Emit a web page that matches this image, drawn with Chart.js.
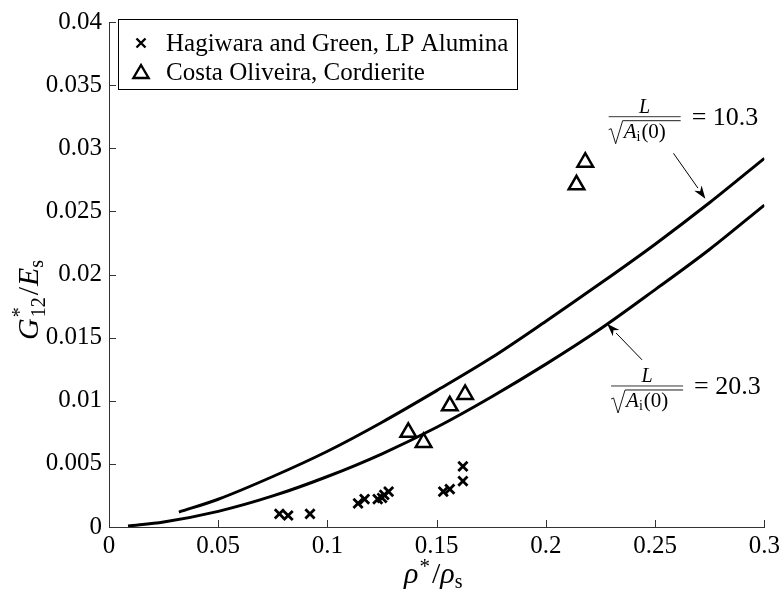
<!DOCTYPE html>
<html>
<head>
<meta charset="utf-8">
<script src="https://cdn.jsdelivr.net/npm/chart.js@4/dist/chart.umd.min.js"></script>
<style>
  html, body { margin: 0; padding: 0; background: #fff; }
  #wrap { width: 784px; height: 596px; }
</style>
</head>
<body>
<div id="wrap"><canvas id="myChart" width="784" height="596"></canvas></div>
<script>
// data
const xTicks = [0, 0.05, 0.1, 0.15, 0.2, 0.25, 0.3];
const xTickLabels = ['0', '0.05', '0.1', '0.15', '0.2', '0.25', '0.3'];
const yTicks = [0, 0.005, 0.01, 0.015, 0.02, 0.025, 0.03, 0.035, 0.04];
const yTickLabels = ['0', '0.005', '0.01', '0.015', '0.02', '0.025', '0.03', '0.035', '0.04'];

// Hagiwara and Green, LP Alumina
const hgX = [0.078, 0.082, 0.092, 0.114, 0.117, 0.123, 0.125, 0.126, 0.128, 0.153, 0.156, 0.162, 0.162];
const hgY = [0.00104, 0.00091, 0.00104, 0.00187, 0.00221, 0.00221, 0.0023, 0.00255, 0.0028, 0.0028, 0.0030, 0.00364, 0.0048];

// Costa Oliveira, Cordierite
const coX = [0.137, 0.144, 0.156, 0.163, 0.214, 0.218];
const coY = [0.0075, 0.0067, 0.0096, 0.0105, 0.0271, 0.0289];

// model curves
const c10X = [0.032, 0.05, 0.075, 0.1, 0.125, 0.15, 0.175, 0.2, 0.225, 0.25, 0.275, 0.3];
const c10Y = [0.00118, 0.0022, 0.0040, 0.0060, 0.0083, 0.0108, 0.0134, 0.0163, 0.0193, 0.0224, 0.0257, 0.0292];
const c20X = [0.0087, 0.025, 0.05, 0.075, 0.1, 0.125, 0.15, 0.175, 0.2, 0.225, 0.25, 0.275, 0.3];
const c20Y = [0.00008, 0.0004, 0.00124, 0.00246, 0.0040, 0.0058, 0.0079, 0.0103, 0.0129, 0.0157, 0.0188, 0.0220, 0.0255];

const legendLabels = ['Hagiwara and Green, LP Alumina', 'Costa Oliveira, Cordierite'];

function pts(xs, ys) { return xs.map((x, i) => ({x: x, y: ys[i]})); }

const SERIF = '"Liberation Serif", "DejaVu Serif", serif';

function drawCross(ctx, x, y, r) {
  ctx.beginPath();
  ctx.moveTo(x - r, y - r); ctx.lineTo(x + r, y + r);
  ctx.moveTo(x - r, y + r); ctx.lineTo(x + r, y - r);
  ctx.stroke();
}
function drawTri(ctx, x, y, r) {
  ctx.beginPath();
  ctx.moveTo(x, y - r);
  ctx.lineTo(x + r * 0.95, y + r * 0.62);
  ctx.lineTo(x - r * 0.95, y + r * 0.62);
  ctx.closePath();
  ctx.stroke();
}
function arrow(ctx, x1, y1, x2, y2) {
  const a = Math.atan2(y2 - y1, x2 - x1);
  const len = 13, w = 4.5;
  const bx = x2 - len * Math.cos(a), by = y2 - len * Math.sin(a);
  ctx.lineWidth = 1;
  ctx.beginPath(); ctx.moveTo(x1, y1); ctx.lineTo(bx, by); ctx.stroke();
  ctx.beginPath();
  ctx.moveTo(x2, y2);
  ctx.lineTo(bx - w * Math.sin(a), by + w * Math.cos(a));
  ctx.lineTo(x2 - len * 0.7 * Math.cos(a), y2 - len * 0.7 * Math.sin(a));
  ctx.lineTo(bx + w * Math.sin(a), by - w * Math.cos(a));
  ctx.closePath(); ctx.fill();
}
// fraction L / sqrt(A_i(0)) = value
function fracLabel(ctx, cx, by, value) {
  ctx.fillStyle = '#000'; ctx.strokeStyle = '#000';
  ctx.textBaseline = 'alphabetic';
  ctx.font = 'italic 20px ' + SERIF;
  ctx.textAlign = 'center';
  ctx.fillText('L', cx, by - 4);
  ctx.lineWidth = 0.8;
  ctx.beginPath(); ctx.moveTo(cx - 36, by); ctx.lineTo(cx + 36, by); ctx.stroke();
  // radical
  const rx = cx - 36, top = by + 4, base = by + 21;
  ctx.lineWidth = 0.9;
  ctx.beginPath();
  ctx.moveTo(rx, base - 8); ctx.lineTo(rx + 2.5, base - 9);
  ctx.lineTo(rx + 7, base + 6); ctx.lineTo(rx + 14, top); ctx.lineTo(cx + 36, top);
  ctx.stroke();
  ctx.textAlign = 'left';
  let x = rx + 15;
  ctx.font = 'italic 21px ' + SERIF;
  ctx.fillText('A', x, base); x += ctx.measureText('A').width;
  ctx.font = '14px ' + SERIF;
  ctx.fillText('i', x, base + 3); x += ctx.measureText('i').width + 1;
  ctx.font = '21px ' + SERIF;
  ctx.fillText('(0)', x, base);
  ctx.font = '26px ' + SERIF;
  ctx.fillText('= ' + value, cx + 47, by + 8);
}

const decor = {
  id: 'decor',
  afterDraw(chart) {
    const ctx = chart.ctx, xs = chart.scales.x, ys = chart.scales.y, a = chart.chartArea;
    ctx.save();
    // inward ticks
    ctx.strokeStyle = '#333'; ctx.lineWidth = 1;
    xTicks.forEach(v => {
      const p = Math.round(xs.getPixelForValue(v)) + 0.5;
      ctx.beginPath(); ctx.moveTo(p, a.bottom); ctx.lineTo(p, a.bottom - 7); ctx.stroke();
    });
    yTicks.forEach(v => {
      const p = Math.round(ys.getPixelForValue(v)) + 0.5;
      ctx.beginPath(); ctx.moveTo(a.left, p); ctx.lineTo(a.left + 7, p); ctx.stroke();
    });

    // legend
    ctx.strokeStyle = '#000'; ctx.fillStyle = '#fff'; ctx.lineWidth = 1;
    ctx.fillRect(118.5, 19.5, 399, 70);
    ctx.strokeRect(118.5, 19.5, 399, 70);
    ctx.fillStyle = '#000';
    ctx.lineWidth = 2.4;
    drawCross(ctx, 141, 43, 4.5);
    drawTri(ctx, 141, 73, 8);
    ctx.font = '25px ' + SERIF;
    ctx.textAlign = 'left'; ctx.textBaseline = 'alphabetic';
    ctx.fillText(legendLabels[0], 166, 51);
    ctx.fillText(legendLabels[1], 166, 80);

    // annotations
    ctx.fillStyle = '#000'; ctx.strokeStyle = '#000';
    fracLabel(ctx, xs.getPixelForValue(0.2452), ys.getPixelForValue(0.0325), '10.3');
    fracLabel(ctx, xs.getPixelForValue(0.2463), ys.getPixelForValue(0.01117), '20.3');
    arrow(ctx, xs.getPixelForValue(0.2584), ys.getPixelForValue(0.0296),
               xs.getPixelForValue(0.273), ys.getPixelForValue(0.0260));
    arrow(ctx, xs.getPixelForValue(0.244), ys.getPixelForValue(0.01324),
               xs.getPixelForValue(0.228), ys.getPixelForValue(0.0161));

    // axis titles
    ctx.textAlign = 'left'; ctx.textBaseline = 'alphabetic';
    // x: rho*/rho_s
    let x = 404, y = 583;
    ctx.font = 'italic 30px ' + SERIF;
    ctx.fillText('ρ', x, y); x += ctx.measureText('ρ').width + 1;
    ctx.font = '21px ' + SERIF;
    ctx.fillText('*', x, y - 10); x += ctx.measureText('*').width + 2;
    ctx.font = '30px ' + SERIF;
    ctx.fillText('/', x, y); x += ctx.measureText('/').width;
    ctx.font = 'italic 30px ' + SERIF;
    ctx.fillText('ρ', x, y); x += ctx.measureText('ρ').width;
    ctx.font = '20px ' + SERIF;
    ctx.fillText('s', x, y + 5);

    // y: G*_12 / E_s (rotated)
    ctx.translate(38, 270);
    ctx.rotate(-Math.PI / 2);
    x = -70; y = 0;
    ctx.font = 'italic 30px ' + SERIF;
    ctx.fillText('G', x, y); x += ctx.measureText('G').width + 1;
    ctx.font = '20px ' + SERIF;
    ctx.fillText('*', x, y - 12);
    ctx.fillText('12', x, y + 7); x += ctx.measureText('12').width + 2;
    ctx.font = '30px ' + SERIF;
    ctx.fillText('/', x, y); x += ctx.measureText('/').width + 1;
    ctx.font = 'italic 30px ' + SERIF;
    ctx.fillText('E', x, y); x += ctx.measureText('E').width;
    ctx.font = '20px ' + SERIF;
    ctx.fillText('s', x, y + 5);
    ctx.restore();
  }
};

new Chart(document.getElementById('myChart'), {
  type: 'scatter',
  data: {
    datasets: [
      { data: pts(hgX, hgY), pointStyle: 'crossRot', pointRadius: 6.5, borderColor: '#000', borderWidth: 2.8, backgroundColor: '#000' },
      { data: pts(coX, coY), pointStyle: 'triangle', pointRadius: 9, borderColor: '#000', borderWidth: 2.5, backgroundColor: 'rgba(0,0,0,0)' },
      { data: pts(c10X, c10Y), showLine: true, pointRadius: 0, borderColor: '#000', borderWidth: 3, cubicInterpolationMode: 'monotone', fill: false },
      { data: pts(c20X, c20Y), showLine: true, pointRadius: 0, borderColor: '#000', borderWidth: 3, cubicInterpolationMode: 'monotone', fill: false }
    ]
  },
  options: {
    responsive: false,
    animation: false,
    layout: { padding: { top: 13, right: 16, left: 0, bottom: 0 } },
    plugins: { legend: { display: false }, tooltip: { enabled: false } },
    scales: {
      x: {
        type: 'linear', min: 0, max: 0.3,
        afterBuildTicks: s => { s.ticks = xTicks.map(v => ({value: v})); },
        afterFit: s => { s.height = 69; },
        ticks: { callback: (v, i) => xTickLabels[i], color: '#000', padding: 4, maxRotation: 0,
                 font: { family: SERIF, size: 25 } },
        grid: { display: false, drawTicks: false },
        border: { display: true, color: '#333', width: 1 }
      },
      y: {
        type: 'linear', min: 0, max: 0.04,
        afterBuildTicks: s => { s.ticks = yTicks.map(v => ({value: v})); },
        afterFit: s => { s.width = 109; },
        ticks: { callback: (v, i) => yTickLabels[i], color: '#000', padding: 7,
                 font: { family: SERIF, size: 25 } },
        grid: { display: false, drawTicks: false },
        border: { display: true, color: '#333', width: 1 }
      }
    }
  },
  plugins: [decor]
});
</script>
</body>
</html>
